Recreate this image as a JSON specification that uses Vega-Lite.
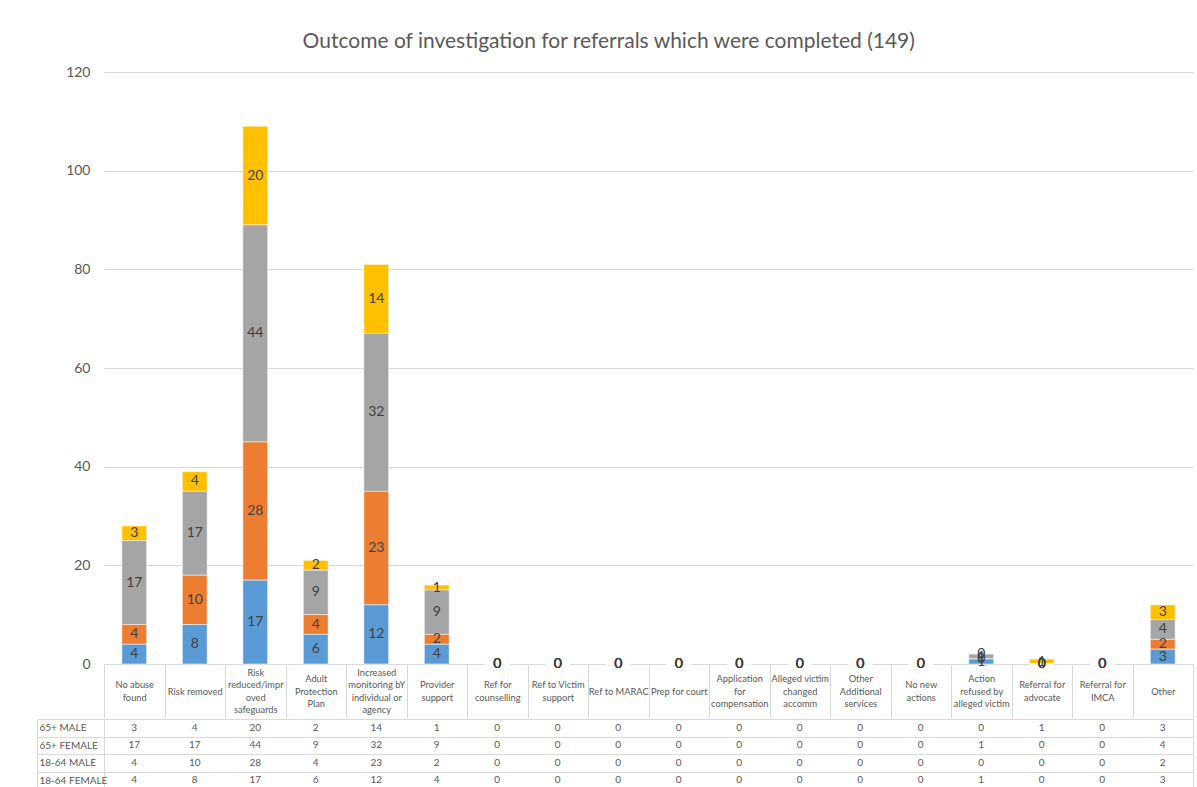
{
  "$schema": "https://vega.github.io/schema/vega-lite/v6.json",
  "padding": {"left": 36, "right": 5, "top": 31, "bottom": 0},
  "spacing": -8,
  "title": {"text": "Outcome of investigation for referrals which were completed (149)", "fontSize": 21, "font": "Lato", "color": "#595959", "fontWeight": "normal", "anchor": "middle", "offset": 13, "dx": -6},
  "config": {
    "font": "Lato",
    "view": {"stroke": null},
    "axis": {"labelFont": "Lato", "labelColor": "#595959"}
  },
  "data": {"values": [
    {"outcome": "No abuse found", "group": "65+ MALE", "count": 3},
    {"outcome": "Risk removed", "group": "65+ MALE", "count": 4},
    {"outcome": "Risk reduced/improved safeguards", "group": "65+ MALE", "count": 20},
    {"outcome": "Adult Protection Plan", "group": "65+ MALE", "count": 2},
    {"outcome": "Increased monitoring bY individual or agency", "group": "65+ MALE", "count": 14},
    {"outcome": "Provider support", "group": "65+ MALE", "count": 1},
    {"outcome": "Ref for counselling", "group": "65+ MALE", "count": 0},
    {"outcome": "Ref to Victim support", "group": "65+ MALE", "count": 0},
    {"outcome": "Ref to MARAC", "group": "65+ MALE", "count": 0},
    {"outcome": "Prep for court", "group": "65+ MALE", "count": 0},
    {"outcome": "Application for compensation", "group": "65+ MALE", "count": 0},
    {"outcome": "Alleged victim changed accomm", "group": "65+ MALE", "count": 0},
    {"outcome": "Other Additional services", "group": "65+ MALE", "count": 0},
    {"outcome": "No new actions", "group": "65+ MALE", "count": 0},
    {"outcome": "Action refused by alleged victim", "group": "65+ MALE", "count": 0},
    {"outcome": "Referral for advocate", "group": "65+ MALE", "count": 1},
    {"outcome": "Referral for IMCA", "group": "65+ MALE", "count": 0},
    {"outcome": "Other", "group": "65+ MALE", "count": 3},
    {"outcome": "No abuse found", "group": "65+ FEMALE", "count": 17},
    {"outcome": "Risk removed", "group": "65+ FEMALE", "count": 17},
    {"outcome": "Risk reduced/improved safeguards", "group": "65+ FEMALE", "count": 44},
    {"outcome": "Adult Protection Plan", "group": "65+ FEMALE", "count": 9},
    {"outcome": "Increased monitoring bY individual or agency", "group": "65+ FEMALE", "count": 32},
    {"outcome": "Provider support", "group": "65+ FEMALE", "count": 9},
    {"outcome": "Ref for counselling", "group": "65+ FEMALE", "count": 0},
    {"outcome": "Ref to Victim support", "group": "65+ FEMALE", "count": 0},
    {"outcome": "Ref to MARAC", "group": "65+ FEMALE", "count": 0},
    {"outcome": "Prep for court", "group": "65+ FEMALE", "count": 0},
    {"outcome": "Application for compensation", "group": "65+ FEMALE", "count": 0},
    {"outcome": "Alleged victim changed accomm", "group": "65+ FEMALE", "count": 0},
    {"outcome": "Other Additional services", "group": "65+ FEMALE", "count": 0},
    {"outcome": "No new actions", "group": "65+ FEMALE", "count": 0},
    {"outcome": "Action refused by alleged victim", "group": "65+ FEMALE", "count": 1},
    {"outcome": "Referral for advocate", "group": "65+ FEMALE", "count": 0},
    {"outcome": "Referral for IMCA", "group": "65+ FEMALE", "count": 0},
    {"outcome": "Other", "group": "65+ FEMALE", "count": 4},
    {"outcome": "No abuse found", "group": "18-64 MALE", "count": 4},
    {"outcome": "Risk removed", "group": "18-64 MALE", "count": 10},
    {"outcome": "Risk reduced/improved safeguards", "group": "18-64 MALE", "count": 28},
    {"outcome": "Adult Protection Plan", "group": "18-64 MALE", "count": 4},
    {"outcome": "Increased monitoring bY individual or agency", "group": "18-64 MALE", "count": 23},
    {"outcome": "Provider support", "group": "18-64 MALE", "count": 2},
    {"outcome": "Ref for counselling", "group": "18-64 MALE", "count": 0},
    {"outcome": "Ref to Victim support", "group": "18-64 MALE", "count": 0},
    {"outcome": "Ref to MARAC", "group": "18-64 MALE", "count": 0},
    {"outcome": "Prep for court", "group": "18-64 MALE", "count": 0},
    {"outcome": "Application for compensation", "group": "18-64 MALE", "count": 0},
    {"outcome": "Alleged victim changed accomm", "group": "18-64 MALE", "count": 0},
    {"outcome": "Other Additional services", "group": "18-64 MALE", "count": 0},
    {"outcome": "No new actions", "group": "18-64 MALE", "count": 0},
    {"outcome": "Action refused by alleged victim", "group": "18-64 MALE", "count": 0},
    {"outcome": "Referral for advocate", "group": "18-64 MALE", "count": 0},
    {"outcome": "Referral for IMCA", "group": "18-64 MALE", "count": 0},
    {"outcome": "Other", "group": "18-64 MALE", "count": 2},
    {"outcome": "No abuse found", "group": "18-64 FEMALE", "count": 4},
    {"outcome": "Risk removed", "group": "18-64 FEMALE", "count": 8},
    {"outcome": "Risk reduced/improved safeguards", "group": "18-64 FEMALE", "count": 17},
    {"outcome": "Adult Protection Plan", "group": "18-64 FEMALE", "count": 6},
    {"outcome": "Increased monitoring bY individual or agency", "group": "18-64 FEMALE", "count": 12},
    {"outcome": "Provider support", "group": "18-64 FEMALE", "count": 4},
    {"outcome": "Ref for counselling", "group": "18-64 FEMALE", "count": 0},
    {"outcome": "Ref to Victim support", "group": "18-64 FEMALE", "count": 0},
    {"outcome": "Ref to MARAC", "group": "18-64 FEMALE", "count": 0},
    {"outcome": "Prep for court", "group": "18-64 FEMALE", "count": 0},
    {"outcome": "Application for compensation", "group": "18-64 FEMALE", "count": 0},
    {"outcome": "Alleged victim changed accomm", "group": "18-64 FEMALE", "count": 0},
    {"outcome": "Other Additional services", "group": "18-64 FEMALE", "count": 0},
    {"outcome": "No new actions", "group": "18-64 FEMALE", "count": 0},
    {"outcome": "Action refused by alleged victim", "group": "18-64 FEMALE", "count": 1},
    {"outcome": "Referral for advocate", "group": "18-64 FEMALE", "count": 0},
    {"outcome": "Referral for IMCA", "group": "18-64 FEMALE", "count": 0},
    {"outcome": "Other", "group": "18-64 FEMALE", "count": 3}
  ]},
  "vconcat": [
    {
      "width": 1089,
      "height": 592,
      "encoding": {
        "x": {
          "field": "outcome", "type": "nominal", "sort": null,
          "scale": {"paddingInner": 0, "paddingOuter": 0},
          "axis": {
            "title": null, "labelAngle": 0, "tickBand": "extent", "tickSize": 54, "tickColor": "#d9d9d9",
            "domainColor": "#d9d9d9", "labelBaseline": "middle", "labelFontSize": 9.3,
            "labelLineHeight": 12.5, "labelOverlap": false, "labelLimit": 0,
            "labelPadding": {"expr": "indexof(['Risk reduced/improved safeguards','Increased monitoring bY individual or agency'], datum.value) >= 0 ? -45.75 : indexof(['Adult Protection Plan','Application for compensation','Alleged victim changed accomm','Other Additional services','Action refused by alleged victim'], datum.value) >= 0 ? -39.5 : indexof(['Risk removed','Ref to MARAC','Prep for court','Other'], datum.value) >= 0 ? -27 : -33.25"},
            "labelExpr": "({'No abuse found':['No abuse','found'],'Risk reduced/improved safeguards':['Risk','reduced/impr','oved','safeguards'],'Adult Protection Plan':['Adult','Protection','Plan'],'Increased monitoring bY individual or agency':['Increased','monitoring bY','individual or','agency'],'Provider support':['Provider','support'],'Ref for counselling':['Ref for','counselling'],'Ref to Victim support':['Ref to Victim','support'],'Application for compensation':['Application','for','compensation'],'Alleged victim changed accomm':['Alleged victim','changed','accomm'],'Other Additional services':['Other','Additional','services'],'No new actions':['No new','actions'],'Action refused by alleged victim':['Action','refused by','alleged victim'],'Referral for advocate':['Referral for','advocate'],'Referral for IMCA':['Referral for','IMCA']})[datum.value] || datum.value"
          }
        },
        "y": {
          "field": "count", "type": "quantitative", "stack": "zero",
          "scale": {"domain": [0, 120]},
          "axis": {"title": null, "values": [0, 20, 40, 60, 80, 100, 120], "domain": false, "ticks": false, "gridColor": "#d9d9d9", "labelPadding": 14, "labelFontSize": 14}
        },
        "order": {"field": "group", "sort": "ascending"}
      },
      "layer": [
        {
          "mark": {"type": "bar", "stroke": "white", "strokeWidth": 0.5, "width": {"band": 0.41}},
          "encoding": {
            "color": {
              "field": "group", "type": "nominal",
              "scale": {"domain": ["18-64 FEMALE", "18-64 MALE", "65+ FEMALE", "65+ MALE"], "range": ["#5b9bd5", "#ed7d31", "#a5a5a5", "#ffc000"]},
              "legend": null
            }
          }
        },
        {
          "mark": {"type": "text", "fontSize": 14, "color": "#404040", "baseline": "middle"},
          "encoding": {
            "y": {"field": "count", "type": "quantitative", "stack": "zero", "bandPosition": 0.5},
            "detail": {"field": "group"},
            "text": {"field": "count", "type": "quantitative"}
          }
        }
      ]
    },
    {
      "width": 1089,
      "height": 70,
      "view": {"stroke": "#d9d9d9"},
      "resolve": {"axis": {"y": "independent"}},
      "layer": [
        {
          "mark": {"type": "text", "fontSize": 10, "color": "#595959", "baseline": "middle"},
          "encoding": {
            "x": {
              "field": "outcome", "type": "nominal", "sort": null,
              "axis": {"title": null, "labels": false, "ticks": false, "domain": false, "grid": true, "tickBand": "extent", "gridColor": "#d9d9d9"}
            },
            "y": {
              "field": "group", "type": "nominal", "sort": ["65+ MALE", "65+ FEMALE", "18-64 MALE", "18-64 FEMALE"],
              "axis": {"orient": "left", "title": null, "tickBand": "extent", "tickSize": 67, "tickColor": "#d9d9d9", "labelAlign": "left", "labelPadding": -2, "grid": true, "gridColor": "#d9d9d9", "domain": false, "labelFontSize": 10, "labelBaseline": "middle"}
            },
            "text": {"field": "count", "type": "quantitative"}
          }
        },
        {
          "mark": {"type": "text", "opacity": 0},
          "encoding": {
            "x": {"field": "outcome", "type": "nominal", "sort": null, "axis": null},
            "y": {
              "field": "group", "type": "nominal", "sort": ["65+ MALE", "65+ FEMALE", "18-64 MALE", "18-64 FEMALE"],
              "axis": {"orient": "left", "offset": 67, "title": null, "labels": false, "ticks": false, "grid": false, "domain": true, "domainColor": "#d9d9d9"}
            },
            "text": {"field": "count", "type": "quantitative"}
          }
        }
      ]
    }
  ]
}
